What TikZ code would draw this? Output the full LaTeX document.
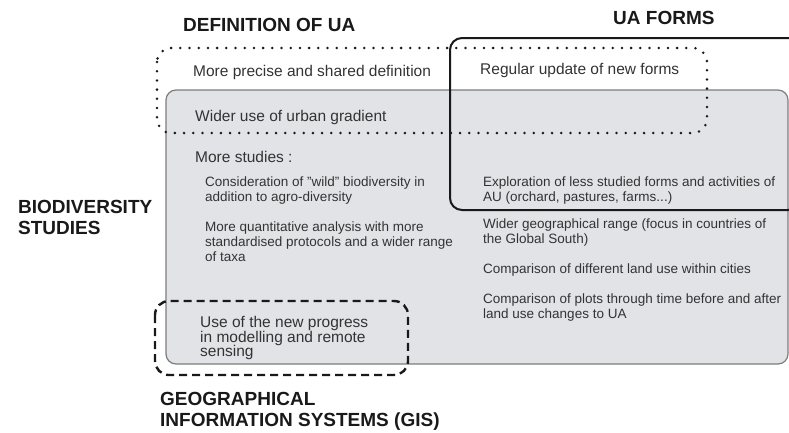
\documentclass[tikz,border=0pt]{standalone}
\usepackage{fontspec}
\setmainfont{Liberation Sans}
\definecolor{boxgray}{HTML}{E1E3E6}
\definecolor{edgegray}{HTML}{7D7D7D}
\definecolor{inkgray}{HTML}{333333}

\begin{document}
\begin{tikzpicture}[x=1pt,y=-1pt]
    \tikzstyle{title}=[font=\fontsize{19}{21}\selectfont\bfseries,text=black!90,align=left,anchor=west,inner sep=0pt]
    \tikzstyle{item}=[font=\fontsize{15.5}{14.5}\selectfont,text=inkgray,align=left,anchor=west,inner sep=0pt]
    \tikzstyle{subitem}=[font=\fontsize{13.5}{15}\selectfont,text=inkgray,align=left,anchor=west,inner sep=0pt]
    \tikzstyle{studybox}=[fill=boxgray,draw=edgegray,line width=1.2pt,rounded corners=10pt]
    \tikzstyle{formbox}=[draw=black!90,line width=2pt,rounded corners=12pt]
    \tikzstyle{defbox}=[draw=black!90,line width=2.8pt,line cap=round,dash pattern=on 0pt off 9.2pt,rounded corners=14pt]
    \tikzstyle{gisbox}=[draw=black!90,line width=2.4pt,dash pattern=on 8pt off 5pt,rounded corners=14pt]

    \useasboundingbox (0,0) rectangle (789,432);

    % the four fields
    \path[studybox] (166,90) rectangle (788,364);
    \path[formbox] (450,38) rectangle (800,210);
    \path[defbox] (157,48) rectangle (707,133);
    \path[gisbox] (155,301) rectangle (408,375);

    % field titles
    \node[title] (T-def) at (183,25) {DEFINITION OF UA};
    \node[title] (T-forms) at (613,18) {UA FORMS};
    \node[title] (T-bio) at (18,217.5) {BIODIVERSITY\\STUDIES};
    \node[title] (T-gis) at (160,411) {GEOGRAPHICAL\\INFORMATION SYSTEMS (GIS)};

    % top rows
    \node[item] (def-1) at (193,72) {More precise and shared definition};
    \node[item] (def-2) at (195,117) {Wider use of urban gradient};
    \node[item] (forms-1) at (480,70) {Regular update of new forms};
    \node[item] (more) at (195,157) {More studies :};

    % left column
    \node[subitem] (wild) at (205,190.5) {Consideration of {\char34}wild{\char34} biodiversity in\\addition to agro-diversity};
    \node[subitem] (quant) at (205,242) {More quantitative analysis with more\\standardised protocols and a wider range\\of taxa};
    \node[item] (gis-1) at (200,338) {Use of the new progress\\in modelling and remote\\sensing};

    % right column
    \node[subitem] (explore) at (483,190.5) {Exploration of less studied forms and activities of\\AU (orchard, pastures, farms...)};
    \node[subitem] (range) at (483,232.5) {Wider geographical range (focus in countries of\\the Global South)};
    \node[subitem] (landuse) at (483,270) {Comparison of different land use within cities};
    \node[subitem] (plots) at (483,307.5) {Comparison of plots through time before and after\\land use changes to UA};
\end{tikzpicture}
\end{document}
